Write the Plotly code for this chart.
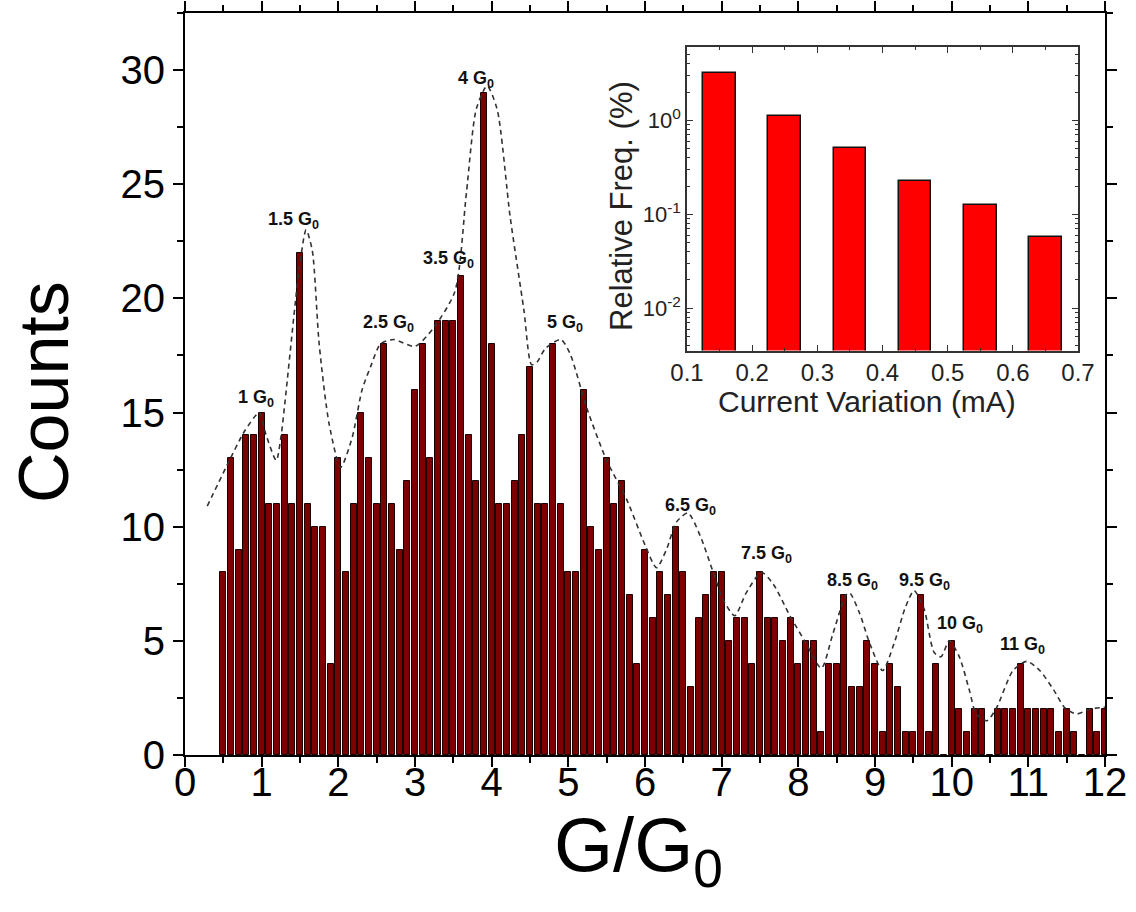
import plotly.graph_objects as go

# ---------------- data ----------------
bin_centers = [round(0.5 + 0.1 * i, 1) for i in range(116)]
counts = [
    8, 13, 9, 14, 14, 15, 11, 11, 14, 11,      # 0.5 - 1.4
    22, 11, 10, 10, 4, 13, 8, 11, 15, 13,      # 1.5 - 2.4
    11, 18, 11, 9, 12, 16, 18, 13, 19, 19,     # 2.5 - 3.4
    19, 21, 14, 12, 29, 18, 11, 11, 12, 14,    # 3.5 - 4.4
    17, 11, 11, 18, 11, 8, 8, 16, 10, 9,       # 4.5 - 5.4
    13, 11, 12, 7, 4, 9, 6, 8, 7, 10,          # 5.5 - 6.4
    8, 3, 6, 7, 8, 8, 5, 6, 6, 4,              # 6.5 - 7.4
    8, 6, 6, 5, 6, 4, 5, 5, 1, 4,              # 7.5 - 8.4
    4, 7, 3, 3, 5, 4, 1, 4, 3, 1,              # 8.5 - 9.4
    1, 7, 1, 4, 0, 5, 2, 1, 2, 2,              # 9.5 - 10.4
    0, 2, 2, 2, 4, 2, 2, 2, 2, 1,              # 10.5 - 11.4
    2, 1, 0, 2, 1, 2,                          # 11.5 - 12.0
]

envelope_x = [0.29, 0.55, 0.78, 0.97, 1.05, 1.19, 1.25, 1.49, 1.58, 1.66, 1.75, 1.88,
              2.03, 2.18, 2.31, 2.42, 2.55, 2.72, 3.0, 3.24, 3.52, 3.67, 3.8, 3.94,
              4.07, 4.24, 4.42, 4.52, 4.59, 4.7, 4.9, 5.02, 5.24, 5.5, 5.76, 6.0,
              6.15, 6.28, 6.41, 6.56, 6.72, 6.89, 7.02, 7.17, 7.32, 7.52, 7.67, 7.89,
              8.1, 8.3, 8.45, 8.62, 8.67, 8.8, 8.93, 9.1, 9.25, 9.4, 9.51, 9.64,
              9.77, 9.86, 9.97, 10.1, 10.23, 10.32, 10.46, 10.59, 10.8, 10.98, 11.15,
              11.33, 11.48, 11.63, 11.8, 12.0]
envelope_y = [10.9, 12.7, 14.2, 15.0, 14.1, 12.9, 13.9, 21.3, 23.0, 22.1, 18.0, 14.5,
              12.6, 13.9, 16.0, 17.0, 18.0, 18.2, 17.9, 18.7, 20.3, 24.6, 28.3, 29.3,
              28.3, 23.6, 19.5, 17.1, 17.2, 17.8, 18.2, 17.6, 15.2, 12.9, 11.2, 9.2,
              8.2, 9.0, 10.2, 10.6, 9.6, 8.0, 6.8, 6.1, 7.1, 8.0, 7.5, 6.1,
              4.9, 3.8, 5.3, 7.0, 7.1, 6.2, 4.9, 3.7, 4.9, 6.5, 7.2, 6.4,
              4.5, 4.3, 5.0, 4.3, 2.85, 1.8, 1.5, 2.1, 3.7, 4.1, 3.7,
              2.85, 2.05, 1.8, 2.0, 2.1]

peak_labels = ["1 G<sub>0</sub>", "1.5 G<sub>0</sub>", "2.5 G<sub>0</sub>", "3.5 G<sub>0</sub>",
               "4 G<sub>0</sub>", "5 G<sub>0</sub>", "6.5 G<sub>0</sub>", "7.5 G<sub>0</sub>",
               "8.5 G<sub>0</sub>", "9.5 G<sub>0</sub>", "10 G<sub>0</sub>", "11 G<sub>0</sub>"]
peak_label_x = [0.93, 1.42, 2.65, 3.44, 3.79, 4.95, 6.59, 7.58, 8.7, 9.65, 10.11, 10.92]
peak_label_y = [15.6, 23.4, 18.9, 21.7, 29.6, 18.9, 10.9, 8.8, 7.6, 7.6, 5.7, 4.8]

inset_x = [0.15, 0.25, 0.35, 0.45, 0.55, 0.65]
inset_freq = [3.2, 1.11, 0.505, 0.229, 0.127, 0.057]

FONT = "Liberation Sans, Arial, sans-serif"

# plot area in pixels
L, R, T, B = 185, 1105, 13, 755
W, H = 1136, 912


def px(xp):
    return (xp - L) / (R - L)


def py(yp):
    return (B - yp) / (B - T)


fig = go.Figure()

fig.add_trace(go.Bar(
    x=bin_centers, y=counts, width=0.076,
    marker=dict(color="#7d0000", line=dict(color="#1a0000", width=1)),
    xaxis="x", yaxis="y", showlegend=False,
))

# transparent copy on an overlay axis that only carries the x tick labels
fig.add_trace(go.Bar(
    x=bin_centers, y=counts, width=0.076, opacity=0, hoverinfo="skip",
    marker=dict(color="rgba(0,0,0,0)"),
    xaxis="x3", yaxis="y", showlegend=False,
))

fig.add_trace(go.Scatter(
    x=envelope_x, y=envelope_y, mode="lines",
    line=dict(color="#333333", width=1.6, dash="5px,4px", shape="spline", smoothing=0.7),
    xaxis="x", yaxis="y", showlegend=False,
))

fig.add_trace(go.Bar(
    x=inset_x, y=inset_freq, width=0.05,
    marker=dict(color="#ff0000", line=dict(color="#111111", width=1.5)),
    xaxis="x2", yaxis="y2", showlegend=False,
))

for t, xv, yv in zip(peak_labels, peak_label_x, peak_label_y):
    fig.add_annotation(x=xv, y=yv, xref="x", yref="y", text="<b>" + t + "</b>",
                       showarrow=False, xanchor="center", yanchor="middle",
                       font=dict(family=FONT, size=18, color="#111111"))

# axis titles
fig.add_annotation(x=px(44), y=py(392), xref="paper", yref="paper", text="Counts",
                   textangle=-90, showarrow=False, xanchor="center", yanchor="middle",
                   font=dict(family=FONT, size=70, color="black"))
fig.add_annotation(x=px(638), y=py(850), xref="paper", yref="paper", text="G/G<sub>0</sub>",
                   showarrow=False, xanchor="center", yanchor="middle",
                   font=dict(family=FONT, size=76, color="black"))
fig.add_annotation(x=px(867), y=py(401), xref="paper", yref="paper",
                   text="Current Variation (mA)", showarrow=False,
                   xanchor="center", yanchor="middle",
                   font=dict(family=FONT, size=30, color="#222222"))
fig.add_annotation(x=px(621), y=py(206), xref="paper", yref="paper",
                   text="Relative Freq. (%)", textangle=-90, showarrow=False,
                   xanchor="center", yanchor="middle",
                   font=dict(family=FONT, size=31, color="#222222"))

axis_common = dict(showline=True, linecolor="black", mirror="ticks", showgrid=False,
                   zeroline=False, ticks="outside", tickcolor="black")

fig.update_layout(
    width=W, height=H,
    margin=dict(l=L, r=W - R, t=T, b=H - B, autoexpand=False),
    paper_bgcolor="white", plot_bgcolor="white",
    bargap=0, barmode="overlay",
    xaxis=dict(**axis_common, range=[0, 12], dtick=1, tick0=0, linewidth=2, tickwidth=2,
               ticklen=10, showticklabels=False,
               minor=dict(dtick=0.5, ticks="outside", ticklen=6, tickwidth=1.5, tickcolor="black"),
               domain=[0, 1]),
    xaxis3=dict(overlaying="x", anchor="y", side="bottom", range=[0, 12], dtick=1, tick0=0,
                showline=False, showgrid=False, zeroline=False, ticks="",
                tickfont=dict(family=FONT, size=40, color="black"), domain=[0, 1]),
    yaxis=dict(**axis_common, range=[0, 32.5], dtick=5, tick0=0, linewidth=2, tickwidth=2,
               ticklen=10, tickfont=dict(family=FONT, size=40, color="black"),
               minor=dict(dtick=2.5, ticks="outside", ticklen=6, tickwidth=1.5, tickcolor="black"),
               domain=[0, 1]),
    xaxis2=dict(showline=True, linecolor="#333333", linewidth=1.5, mirror="ticks", showgrid=False,
                zeroline=False, ticks="inside", ticklen=6, tickcolor="#333333",
                range=[0.1, 0.7], dtick=0.1, tick0=0.1,
                tickfont=dict(family=FONT, size=24, color="#222222"),
                minor=dict(dtick=0.05, ticks="inside", ticklen=3, tickcolor="#333333"),
                domain=[px(687), px(1078)], anchor="y2"),
    yaxis2=dict(showline=True, linecolor="#333333", linewidth=1.5, mirror="ticks", showgrid=False,
                zeroline=False, ticks="inside", ticklen=6, tickcolor="#333333",
                type="log", range=[-2.45, 0.783],
                tickvals=[0.01, 0.1, 1], ticktext=["10<sup>-2</sup>", "10<sup>-1</sup>", "10<sup>0</sup>"],
                tickfont=dict(family=FONT, size=22, color="#222222"),
                minor=dict(ticks="inside", ticklen=3, tickcolor="#333333", dtick="D1"),
                domain=[py(350.5), py(46.9)], anchor="x2"),
)

fig.write_html("out.html")
